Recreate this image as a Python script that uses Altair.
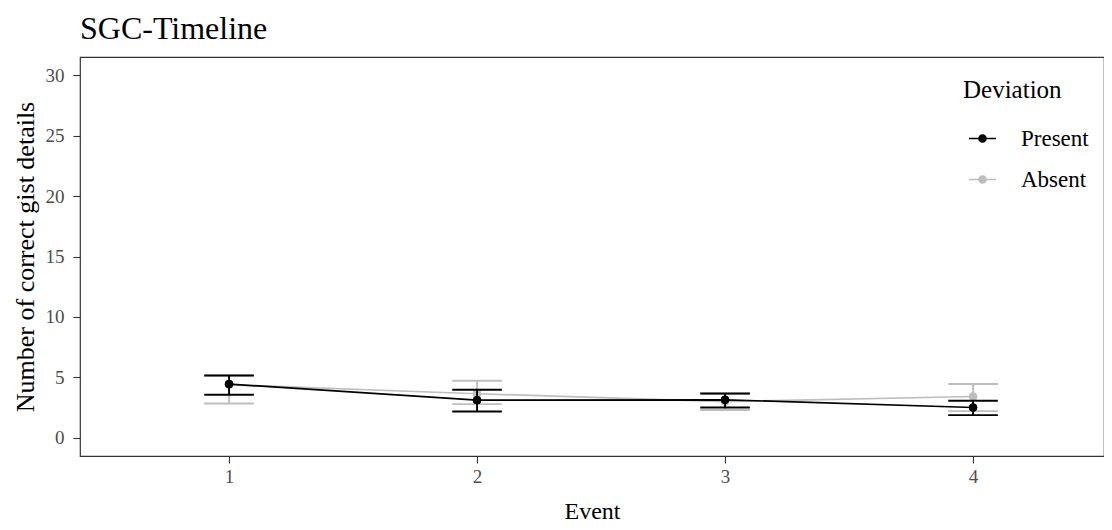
import altair as alt
import pandas as pd

events = [1, 2, 3, 4]
deviation = ["Present", "Absent"]
present_mean = [4.45, 3.12, 3.15, 2.51]
present_low = [3.56, 2.18, 2.51, 1.88]
present_high = [5.16, 3.98, 3.67, 3.07]
absent_mean = [4.39, 3.65, 3.00, 3.42]
absent_low = [2.84, 2.79, 2.30, 2.21]
absent_high = [5.16, 4.72, 3.65, 4.45]

rows = []
for i, e in enumerate(events):
    rows.append({"Event": e, "Deviation": "Absent", "order": 0,
                 "mean": absent_mean[i], "low": absent_low[i], "high": absent_high[i]})
for i, e in enumerate(events):
    rows.append({"Event": e, "Deviation": "Present", "order": 1,
                 "mean": present_mean[i], "low": present_low[i], "high": present_high[i]})
df = pd.DataFrame(rows)

FONT = "Liberation Serif"
col_scale = alt.Scale(domain=deviation, range=["#000000", "#BEBEBE"])
legend_path = "M-1,0L1,0M-0.26,0A0.26,0.26,0,1,1,0.26,0A0.26,0.26,0,1,1,-0.26,0Z"
leg = alt.Legend(
    title="Deviation", orient="none", legendX=883, legendY=21,
    symbolType=legend_path, symbolSize=729, symbolStrokeWidth=1.6,
    symbolOffset=5, labelOffset=24, rowPadding=14, titlePadding=21,
    titleFont=FONT, titleFontSize=25, titleFontWeight="normal", titleColor="#000000",
    labelFont=FONT, labelFontSize=23, labelColor="#000000",
)

xs = alt.Scale(domain=[0.399, 4.528], nice=False, zero=False)
ys = alt.Scale(domain=[-1.5, 31.5], nice=False, zero=False)

x_enc = alt.X("Event:Q", scale=xs, title="Event",
              axis=alt.Axis(values=events, format="d"))
y_enc = alt.Y("mean:Q", scale=ys, title="Number of correct gist details",
              axis=alt.Axis(values=[0, 5, 10, 15, 20, 25, 30]))

stroke_enc = alt.Stroke("Deviation:N", scale=col_scale, legend=leg, sort=deviation)
fill_enc = alt.Fill("Deviation:N", scale=col_scale, legend=leg, sort=deviation)

layers = []
for dev in ["Absent", "Present"]:
    base = alt.Chart(df).transform_filter(alt.datum.Deviation == dev)
    line = base.mark_line(strokeWidth=1.7).encode(x=x_enc, y=y_enc, stroke=stroke_enc)
    vbar = base.mark_rule(strokeWidth=1.9).encode(
        x="Event:Q", y="low:Q", y2="high:Q", stroke=stroke_enc)
    caps_lo = base.transform_calculate(
        xl="datum.Event - 0.1", xr="datum.Event + 0.1").mark_rule(strokeWidth=1.9).encode(
        x="xl:Q", x2="xr:Q", y="low:Q", stroke=stroke_enc)
    caps_hi = base.transform_calculate(
        xl="datum.Event - 0.1", xr="datum.Event + 0.1").mark_rule(strokeWidth=1.9).encode(
        x="xl:Q", x2="xr:Q", y="high:Q", stroke=stroke_enc)
    pts = base.mark_point(filled=True, size=62, opacity=1, strokeWidth=1).encode(
        x="Event:Q", y="mean:Q", fill=fill_enc, stroke=stroke_enc)
    layers += [line, vbar, caps_lo, caps_hi, pts]

chart = alt.layer(*layers).properties(
    width=1024, height=399,
    title=alt.TitleParams("SGC-Timeline", anchor="start", frame="group",
                          font=FONT, fontSize=32, fontWeight="normal",
                          color="#000000", offset=11),
    autosize=alt.AutoSizeParams(type="none"),
    padding={"left": 72, "top": 49, "right": 0, "bottom": 66},
).configure_view(
    stroke="#333333", strokeWidth=1.2
).configure_axis(
    grid=False, domain=False, ticks=True, tickColor="#333333", tickSize=7,
    tickWidth=1.1, labelFont=FONT, labelFontSize=19, labelColor="#4D4D4D",
    titleFont=FONT, titleFontSize=24, titleFontWeight="normal", titleColor="#000000",
    labelPadding=4,
).configure_axisY(titlePadding=7, titleFontSize=26, labelPadding=9).configure_axisX(titlePadding=13)

chart.save("out.html", embed_options={"renderer": "svg", "actions": False})
